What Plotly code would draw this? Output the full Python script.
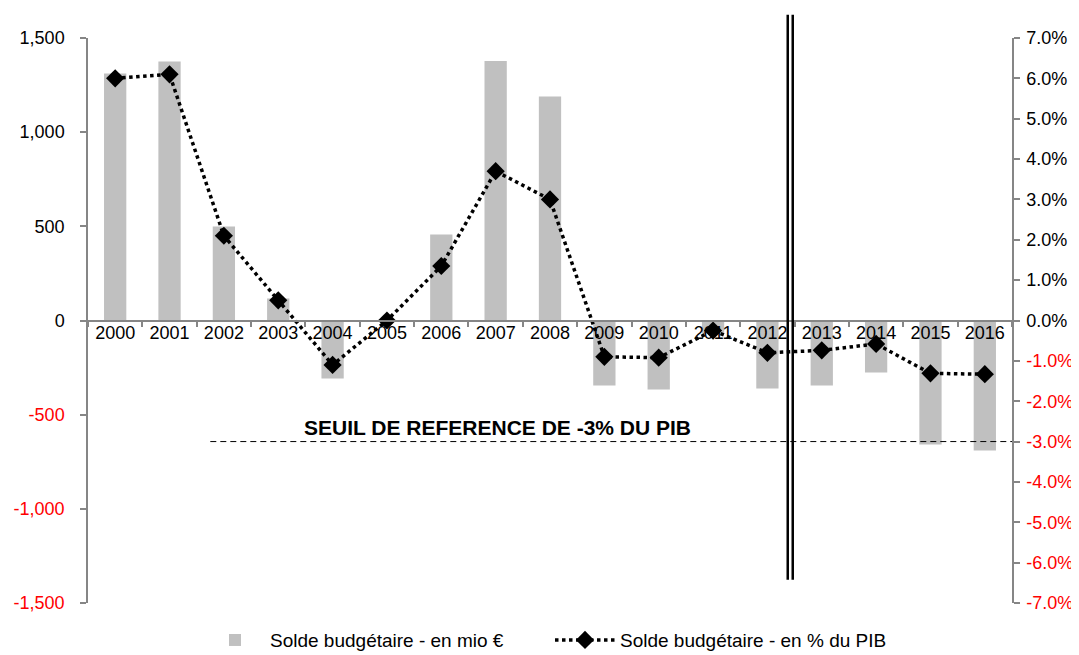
import plotly.graph_objects as go

years = ["2000", "2001", "2002", "2003", "2004", "2005", "2006", "2007", "2008",
         "2009", "2010", "2011", "2012", "2013", "2014", "2015", "2016"]
solde_mio = [1312, 1375, 499, 117, -308, 0, 457, 1378, 1190,
             -345, -366, -70, -361, -345, -276, -658, -690]
solde_pct = [6.0, 6.1, 2.1, 0.5, -1.1, 0.0, 1.35, 3.7, 3.0,
             -0.9, -0.92, -0.25, -0.8, -0.74, -0.58, -1.31, -1.33]

left_ticks = [-1500, -1000, -500, 0, 500, 1000, 1500]
right_ticks = [-7, -6, -5, -4, -3, -2, -1, 0, 1, 2, 3, 4, 5, 6, 7]
seuil = -3
seuil_label = "SEUIL DE REFERENCE DE -3% DU PIB"

RED = "#FF0000"
AXIS = "#868686"
FONT = "Liberation Sans, Arial, sans-serif"


def red_if_neg(v, txt):
    return f"<span style='color:{RED}'>{txt}</span>" if v < 0 else txt


left_text = [red_if_neg(v, f"{v:,}") for v in left_ticks]
right_text = [red_if_neg(v, f"{v:.1f}%") for v in right_ticks]

fig = go.Figure()
fig.add_trace(go.Bar(
    x=years, y=solde_mio, name="Solde budgétaire - en mio €",
    marker=dict(color="#C0C0C0", line=dict(width=0)), width=0.41,
    yaxis="y",
))
fig.add_trace(go.Scatter(
    x=years, y=solde_pct, name="Solde budgétaire - en % du PIB",
    mode="lines+markers", yaxis="y2",
    line=dict(color="black", width=3.5, dash="dot"),
    marker=dict(symbol="diamond", size=14, color="black"),
))

axis_common = dict(showline=True, linecolor=AXIS, linewidth=1.5, ticks="outside",
                   ticklen=6, tickcolor=AXIS, tickwidth=1.5, showgrid=False,
                   zeroline=False, automargin=False, tickfont=dict(size=18))

# page body adds an 8px offset, so the figure is sized to fit the 1079x655 window
fig.update_layout(
    width=1071, height=647,
    margin=dict(l=80, r=67, t=30, b=52),
    paper_bgcolor="white", plot_bgcolor="white",
    font=dict(family=FONT, size=18, color="black"),
    showlegend=True,
    legend=dict(orientation="h", x=0.5, xanchor="center",
                yref="container", y=0.023, yanchor="middle",
                font=dict(size=19), itemwidth=60, entrywidth=275,
                traceorder="normal"),
    xaxis=dict(type="category", anchor="free", position=0.5, range=[-0.5, 16.5],
               tickson="boundaries", ticklabelstandoff=-4, **axis_common),
    yaxis=dict(range=[-1500, 1500], tickvals=left_ticks, ticktext=left_text,
               ticklabelstandoff=12, **axis_common),
    yaxis2=dict(range=[-7, 7], tickvals=right_ticks, ticktext=right_text,
                overlaying="y", side="right", ticklabelstandoff=3, **axis_common),
)

# -3% reference line
fig.add_shape(type="line", xref="x", yref="y2", x0=1.75, x1=16.5, y0=seuil, y1=seuil,
              line=dict(color="black", width=1, dash="6px,4px"))
fig.add_annotation(x=7.03, y=-2.65, xref="x", yref="y2", text=f"<b>{seuil_label}</b>",
                   showarrow=False, font=dict(size=21, color="black"))

# double vertical separator
for xv in (12.374, 12.466):
    fig.add_shape(type="line", xref="x", yref="paper", x0=xv, x1=xv, y0=0.041, y1=1.041,
                  line=dict(color="black", width=2.5))

fig.write_html("out.html")
